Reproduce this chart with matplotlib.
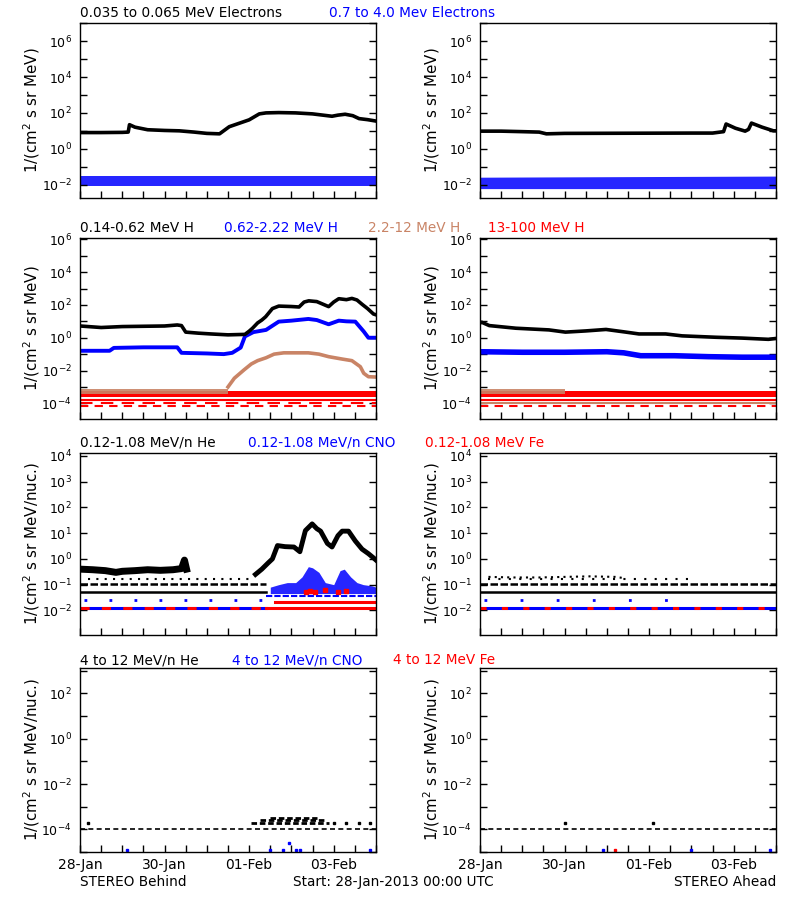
import matplotlib
matplotlib.use("Agg")
import matplotlib.pyplot as plt
import numpy as np
from matplotlib.ticker import FixedLocator, NullFormatter

# time axis: days since 28-Jan-2013 00:00 UTC
day_ticks = [0, 2, 4, 6]
day_labels = ["28-Jan", "30-Jan", "01-Feb", "03-Feb"]

BLACK = "black"; BLUE = "#0000ff"; BROWN = "#c98466"; RED = "#ff0000"

# ---- panel 1: electrons ----
beh_elo_t = [0, 0.5, 1.0, 1.14, 1.17, 1.3, 1.6, 2.0, 2.35, 2.7, 3.0, 3.3, 3.53, 4.0, 4.24, 4.4, 4.7, 5.1, 5.5, 5.96, 6.1, 6.27, 6.45, 6.6, 6.8, 7.0]
beh_elo_v = [8, 8, 8.2, 8.5, 22, 16, 11.5, 10.5, 10, 8.5, 7.2, 6.8, 17, 41, 88, 100, 104, 100, 88, 65, 75, 84, 70, 48, 42, 35]
ahd_elo_t = [0, 0.5, 1.0, 1.4, 1.57, 2.0, 3.0, 4.0, 5.0, 5.5, 5.76, 5.82, 6.04, 6.27, 6.35, 6.42, 6.67, 6.94, 7.0]
ahd_elo_v = [9.6, 9.6, 9.0, 8.5, 6.8, 7.2, 7.3, 7.4, 7.5, 7.5, 9, 24, 14, 9.6, 12, 27, 16, 10, 10]
ehi_t = [0, 3.5, 7.0]
beh_ehi_lo = [0.008, 0.008, 0.008]
beh_ehi_hi = [0.032, 0.032, 0.032]
ahd_ehi_lo = [0.006, 0.006, 0.006]
ahd_ehi_hi = [0.026, 0.028, 0.030]

# ---- panel 2: protons ----
beh_h1_t = [0, 0.5, 1.0, 1.5, 2.0, 2.3, 2.4, 2.5, 2.8, 3.1, 3.5, 3.9, 4.0, 4.08, 4.2, 4.3, 4.39, 4.55, 4.7, 5.0, 5.18, 5.3, 5.41, 5.6, 5.88, 6.0, 6.12, 6.3, 6.43, 6.55, 6.67, 6.8, 6.94, 7.0]
beh_h1_v = [5.2, 4.2, 4.8, 5.0, 5.2, 6.0, 5.5, 2.2, 1.9, 1.7, 1.5, 1.6, 2.5, 3.8, 8, 12, 19, 60, 85, 80, 75, 150, 178, 160, 79, 150, 240, 210, 250, 200, 110, 60, 28, 25]
beh_h2_t = [0, 0.7, 0.8, 1.5, 2.3, 2.4, 3.0, 3.4, 3.6, 3.8, 3.9, 4.1, 4.4, 4.7, 5.0, 5.4, 5.6, 5.88, 6.12, 6.3, 6.51, 6.71, 6.82, 7.0]
beh_h2_v = [0.16, 0.16, 0.24, 0.26, 0.26, 0.12, 0.11, 0.1, 0.12, 0.25, 1.2, 2.2, 3.0, 9.6, 11, 14, 12, 6.6, 11, 10, 9.6, 2.4, 1.0, 1.0]
beh_h3_t = [3.5, 3.65, 3.88, 4.05, 4.2, 4.4, 4.59, 4.82, 5.1, 5.4, 5.65, 5.88, 6.2, 6.43, 6.63, 6.71, 6.82, 7.0]
beh_h3_v = [1e-3, 3.4e-3, 1.1e-2, 2.5e-2, 0.04, 0.06, 0.1, 0.12, 0.12, 0.12, 0.1, 0.07, 0.05, 0.04, 0.017, 0.0068, 0.0042, 0.004]
beh_h3_bg_t = [0, 3.5]
ahd_h1_t = [0, 0.04, 0.22, 0.85, 1.63, 2.02, 2.5, 2.98, 3.45, 3.76, 4.39, 4.78, 5.57, 6.2, 6.82, 7.0]
ahd_h1_v = [8.0, 8.8, 5.5, 3.8, 3.0, 2.2, 2.6, 3.2, 2.2, 1.7, 1.7, 1.3, 1.07, 0.95, 0.8, 0.9]
ahd_h2_t = [0, 1.0, 2.0, 3.0, 3.4, 3.8, 4.6, 5.4, 6.2, 7.0]
ahd_h2_v = [0.14, 0.13, 0.13, 0.14, 0.12, 0.08, 0.08, 0.07, 0.065, 0.065]
ahd_h3_bg_t = [0, 2.0]
h_bg_band = (2.4e-4, 5.5e-4)   # 13-100 MeV H quiet band
h3_bg_band = (3.5e-4, 8e-4)    # 2.2-12 MeV H quiet band

# ---- panel 3: low energy ions ----
beh_he_quiet_t = [0, 0.3, 0.6, 0.85, 1.0, 1.3, 1.6, 1.9, 2.2, 2.4, 2.47, 2.52]
beh_he_quiet_v = [0.4, 0.38, 0.35, 0.3, 0.33, 0.35, 0.38, 0.36, 0.38, 0.42, 0.9, 0.4]
beh_he_t = [4.15, 4.3, 4.45, 4.55, 4.67, 4.85, 5.06, 5.2, 5.33, 5.49, 5.6, 5.69, 5.85, 5.96, 6.1, 6.2, 6.35, 6.51, 6.67, 6.82, 6.94, 7.0]
beh_he_v = [0.25, 0.4, 0.7, 1.0, 3.3, 3.0, 2.9, 1.9, 12.6, 23, 15, 12, 4, 2.9, 8, 12, 12, 5, 2.4, 1.6, 1.1, 0.9]
beh_cno_t = [4.5, 4.7, 4.9, 5.1, 5.25, 5.4, 5.5, 5.65, 5.8, 6.0, 6.15, 6.25, 6.4, 6.55, 6.7, 6.9, 7.0]
beh_cno_v = [0.08, 0.1, 0.12, 0.12, 0.2, 0.5, 0.45, 0.3, 0.12, 0.1, 0.35, 0.4, 0.2, 0.12, 0.1, 0.09, 0.08]
beh_fe_pts_t = [5.35, 5.45, 5.55, 5.8, 6.1, 6.3]
beh_fe_pts_v = [0.05, 0.055, 0.05, 0.06, 0.05, 0.055]
ahd_he_quiet_t = [0.2, 0.8, 1.4, 2.0, 2.6, 3.2, 3.4]
ahd_he_quiet_v = [0.2, 0.19, 0.19, 0.2, 0.21, 0.2, 0.18]
# one-count levels: (level, start, end)
beh_he_levels = [(0.054, 0, 4.4), (0.107, 0, 4.4), (0.165, 0.2, 4.0)]
ahd_he_levels = [(0.054, 0, 7.0), (0.107, 0, 7.0), (0.165, 0.2, 5.0)]
beh_cno_levels = [(0.012, 0, 4.4), (0.026, 0.1, 4.4), (0.037, 4.4, 7.0)]
ahd_cno_levels = [(0.012, 0, 7.0), (0.026, 0.1, 5.2)]
beh_fe_levels = [(0.012, 4.4, 7.0), (0.022, 4.6, 7.0)]

# ---- panel 4: high energy ions ----
beh_he4_levels = [(1e-4, 0, 7.0), (2e-4, 4.05, 5.9), (2.6e-4, 4.25, 5.8), (3.3e-4, 4.5, 5.6)]
ahd_he4_levels = [(1e-4, 0, 7.0)]
beh_he4_pts_t = [0.2, 6.0, 6.3, 6.6, 6.85]
beh_he4_pts_v = [2e-4, 2e-4, 2e-4, 2e-4, 2e-4]
ahd_he4_pts_t = [2.0, 4.1]
ahd_he4_pts_v = [2e-4, 2e-4]
beh_cno4_t = [1.1, 4.5, 4.8, 4.95, 5.1, 5.2, 6.85]
beh_cno4_v = [1.2e-5, 1.2e-5, 1.2e-5, 2.4e-5, 1.2e-5, 1.2e-5, 1.2e-5]
ahd_cno4_t = [2.9, 5.0, 6.85]
ahd_cno4_v = [1.2e-5, 1.2e-5, 1.2e-5]
ahd_fe4_t = [3.2]
ahd_fe4_v = [1.2e-5]

ylab_e = "1/(cm$^2$ s sr MeV)"
ylab_n = "1/(cm$^2$ s sr MeV/nuc.)"

fig = plt.figure(figsize=(8, 9), dpi=100)
plt.rcParams["font.family"] = "DejaVu Sans"
FS = 9.8

rows = [(0.7800, 0.1948, (1.8e-3, 1.07e7), 2),
        (0.5344, 0.2011, (1.1e-5, 1.2e6), 2),
        (0.2944, 0.2022, (1.1e-3, 1.3e4), 1),
        (0.0533, 0.2044, (1e-5, 1.3e3), 2)]
ylabs = [ylab_e, ylab_e, ylab_n, ylab_n]
axes = []
for r, (b, h, yl, step) in enumerate(rows):
    pair = []
    for left in (0.10, 0.60):
        ax = fig.add_axes([left, b, 0.37, h])
        ax.set_yscale("log")
        ax.set_xlim(0, 7)
        ax.set_ylim(*yl)
        lo = int(np.ceil(np.log10(yl[0]))); hi = int(np.floor(np.log10(yl[1])))
        dec = list(range(lo, hi + 1))
        lab = [d for d in dec if d % step == 0]
        ax.yaxis.set_major_locator(FixedLocator([10.0 ** d for d in lab]))
        ax.yaxis.set_minor_locator(FixedLocator([10.0 ** d for d in dec if d not in lab]))
        ax.yaxis.set_minor_formatter(NullFormatter())
        ax.xaxis.set_major_locator(FixedLocator(day_ticks))
        ax.xaxis.set_minor_locator(FixedLocator(np.arange(0, 7.01, 0.5)))
        if r == 3:
            ax.set_xticklabels(day_labels)
        else:
            ax.set_xticklabels([])
        ax.tick_params(which="both", direction="in", length=5, width=1,
                       right=True, top=False)
        ax.tick_params(axis="y", labelsize=9, pad=6)
        ax.tick_params(axis="x", labelsize=10, pad=4)
        ax.set_ylabel(ylabs[r], fontsize=10.8)
        ax.yaxis.set_label_coords(-0.13, 0.5)
        for s in ax.spines.values():
            s.set_linewidth(1)
        pair.append(ax)
    axes.append(pair)

def levels(ax, lv, color, ls="-", lw=1.2):
    for y, a, b in lv:
        ax.plot([a, b], [y, y], color=color, lw=lw, ls=ls)

# panel 1
for ax, (t, v), (lo, hi) in zip(axes[0], [(beh_elo_t, beh_elo_v), (ahd_elo_t, ahd_elo_v)],
                                [(beh_ehi_lo, beh_ehi_hi), (ahd_ehi_lo, ahd_ehi_hi)]):
    ax.fill_between(ehi_t, lo, hi, color=BLUE, lw=0, alpha=0.85)
    ax.plot(t, v, color=BLACK, lw=2.6)

# panel 2
for i, ax in enumerate(axes[1]):
    ax.fill_between([0, 7], *h_bg_band, color=RED, lw=0)
    ax.plot([0, 7], [1.6e-4, 1.6e-4], color=RED, lw=1.5)
    ax.plot([0, 7], [6.5e-5, 6.5e-5], color=RED, lw=1.5, ls=(0, (4, 3)))
    ax.plot([0, 7], [1e-4, 1e-4], color=BROWN if i == 1 else RED, lw=1.5, ls="-" if i == 1 else (0, (6, 4)))
axes[1][0].fill_between(beh_h3_bg_t, *h3_bg_band, color=BROWN, lw=0, alpha=0.9)
axes[1][1].fill_between(ahd_h3_bg_t, *h3_bg_band, color=BROWN, lw=0, alpha=0.9)
axes[1][0].plot(beh_h3_t, beh_h3_v, color=BROWN, lw=2.6)
axes[1][0].plot(beh_h2_t, beh_h2_v, color=BLUE, lw=2.8)
axes[1][0].plot(beh_h1_t, beh_h1_v, color=BLACK, lw=2.6)
axes[1][1].plot(ahd_h2_t, ahd_h2_v, color=BLUE, lw=4)
axes[1][1].plot(ahd_h1_t, ahd_h1_v, color=BLACK, lw=2.6)

# panel 3
a, b = axes[2]
levels(a, beh_he_levels[:1], BLACK, lw=1.8)
levels(a, beh_he_levels[1:2], BLACK, ls=(0, (3, 1)), lw=1.8)
levels(a, beh_he_levels[2:], BLACK, ls=(0, (1, 3)), lw=1.5)
a.plot(beh_he_quiet_t, beh_he_quiet_v, color=BLACK, lw=5)
a.fill_between(beh_cno_t, 0.045, beh_cno_v, color=BLUE, lw=0, alpha=0.85)
a.plot(beh_fe_pts_t, beh_fe_pts_v, "s", color=RED, ms=2.5)
a.plot(beh_he_t, beh_he_v, color=BLACK, lw=3.5)
levels(a, beh_cno_levels[:1], BLUE, lw=2.2)
levels(a, beh_cno_levels[:1], RED, ls=(0, (3, 4)), lw=2.2)
levels(a, beh_cno_levels[1:2], BLUE, ls=(0, (1, 8)), lw=2)
levels(a, beh_cno_levels[2:], BLUE, ls=(0, (3, 1)), lw=1.5)
levels(a, beh_fe_levels, RED, lw=2.2)
levels(b, ahd_he_levels[:1], BLACK, lw=1.8)
levels(b, ahd_he_levels[1:2], BLACK, ls=(0, (3, 1)), lw=1.8)
levels(b, ahd_he_levels[2:], BLACK, ls=(0, (1, 4)), lw=1.5)
b.plot(ahd_he_quiet_t, ahd_he_quiet_v, color=BLACK, lw=1.5, ls=(0, (1, 2)))
levels(b, ahd_cno_levels[:1], BLUE, lw=2.2)
levels(b, ahd_cno_levels[:1], RED, ls=(0, (2, 5)), lw=2.2)
levels(b, ahd_cno_levels[1:], BLUE, ls=(0, (1, 12)), lw=2)

# panel 4
a, b = axes[3]
levels(a, beh_he4_levels[:1], BLACK, ls=(0, (3, 2)), lw=1.2)
levels(a, beh_he4_levels[1:], BLACK, ls=(0, (2, 1)), lw=2)
a.plot(beh_he4_pts_t, beh_he4_pts_v, "s", color=BLACK, ms=2)
a.plot(beh_cno4_t, beh_cno4_v, "s", color=BLUE, ms=2)
levels(b, ahd_he4_levels, BLACK, ls=(0, (3, 2)), lw=1.2)
b.plot(ahd_he4_pts_t, ahd_he4_pts_v, "s", color=BLACK, ms=2)
b.plot(ahd_cno4_t, ahd_cno4_v, "s", color=BLUE, ms=2)
b.plot(ahd_fe4_t, ahd_fe4_v, "s", color=RED, ms=2)

# coloured titles above each row
titles = [
    [("0.035 to 0.065 MeV Electrons", BLACK, 80), ("0.7 to 4.0 Mev Electrons", BLUE, 329)],
    [("0.14-0.62 MeV H", BLACK, 80), ("0.62-2.22 MeV H", BLUE, 224), ("2.2-12 MeV H", BROWN, 368), ("13-100 MeV H", RED, 488)],
    [("0.12-1.08 MeV/n He", BLACK, 80), ("0.12-1.08 MeV/n CNO", BLUE, 248), ("0.12-1.08 MeV Fe", RED, 425)],
    [("4 to 12 MeV/n He", BLACK, 80), ("4 to 12 MeV/n CNO", BLUE, 232), ("4 to 12 MeV Fe", RED, 393)],
]
title_y = [13, 228, 443, 660]
for row, yy in zip(titles, title_y):
    for txt, col, xx in row:
        fig.text(xx / 800, 1 - yy / 900, txt, color=col, fontsize=FS, va="center", ha="left")

fig.text(80 / 800, 1 - 882 / 900, "STEREO Behind", fontsize=9.8, va="center")
fig.text(293 / 800, 1 - 882 / 900, "Start: 28-Jan-2013 00:00 UTC", fontsize=9.8, va="center")
fig.text(776 / 800, 1 - 882 / 900, "STEREO Ahead", fontsize=9.8, va="center", ha="right")

fig.savefig("out.png", dpi=100)
